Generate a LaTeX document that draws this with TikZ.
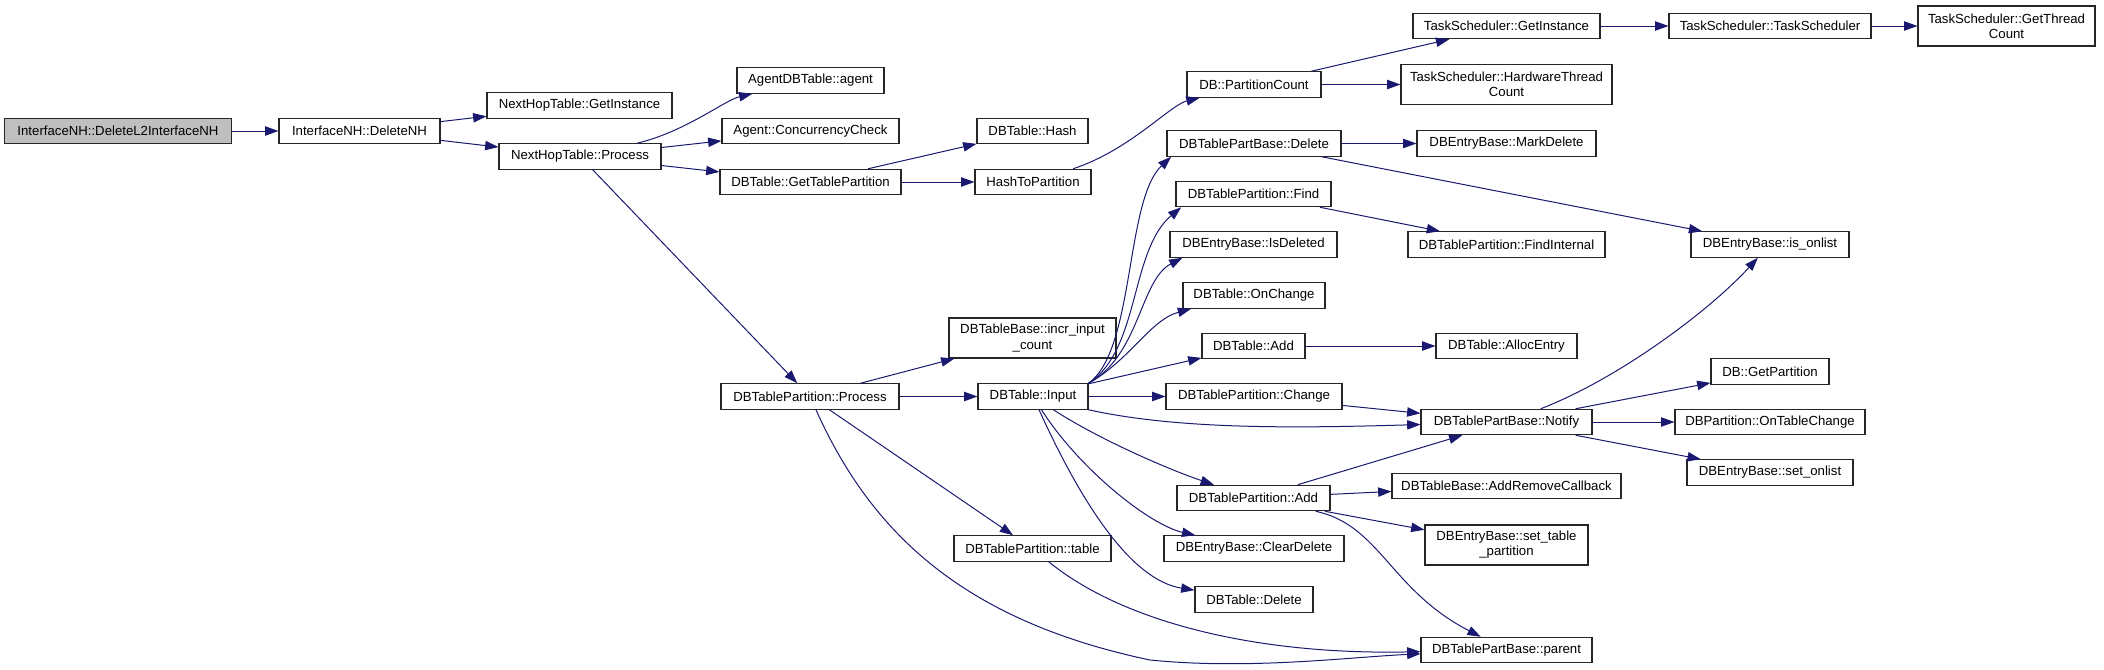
\documentclass[tikz,border=0pt]{standalone}
\usepackage{fontspec}
\setmainfont{Liberation Sans}
\usetikzlibrary{arrows.meta}
\definecolor{edgeblue}{HTML}{191970}
\definecolor{rootgray}{HTML}{BFBFBF}

\begin{document}
\begin{tikzpicture}[x=0.75pt, y=-0.75pt,
    fn/.style={draw=black!85, line width=0.8pt, fill=white, inner sep=0pt,
      minimum height=19.1pt, align=center, font=\fontsize{9.9}{11.3}\selectfont},
    bw/.style={minimum width=#1*0.75pt},
    tall/.style={minimum height=30pt},
    call/.style={edgeblue, line width=0.75pt, -{Triangle[length=10pt,width=7pt]}}]
    \useasboundingbox (0,0) rectangle (2104,669);

    % Caller chain
    \node[fn, bw=227, fill=rootgray] (dell2) at (118,131) {InterfaceNH::DeleteL2InterfaceNH};
    \node[fn, bw=161] (delnh) at (359.5,131) {InterfaceNH::DeleteNH};
    \node[fn, bw=185] (nhinst) at (579.5,105.5) {NextHopTable::GetInstance};
    \node[fn, bw=162] (nhproc) at (580,156.5) {NextHopTable::Process};

    % Column 4
    \node[fn, bw=147] (agent) at (810.5,80.5) {AgentDBTable::agent};
    \node[fn, bw=177] (conc) at (810.5,131) {Agent::ConcurrencyCheck};
    \node[fn, bw=181] (gettp) at (810.5,182) {DBTable::GetTablePartition};
    \node[fn, bw=178] (tpproc) at (810,396.5) {DBTablePartition::Process};

    % Column 5
    \node[fn, bw=111] (hash) at (1032.5,131) {DBTable::Hash};
    \node[fn, bw=116] (h2p) at (1033,182) {HashToPartition};
    \node[fn, bw=167, tall] (incr) at (1032.5,338) {DBTableBase::incr\_input\\\_count};
    \node[fn, bw=110] (input) at (1033,396.5) {DBTable::Input};
    \node[fn, bw=157] (tptable) at (1032.5,548.5) {DBTablePartition::table};

    % Column 6
    \node[fn, bw=134] (pcount) at (1254,84.5) {DB::PartitionCount};
    \node[fn, bw=174] (pbdel) at (1254,143.5) {DBTablePartBase::Delete};
    \node[fn, bw=155] (tpfind) at (1253.5,194) {DBTablePartition::Find};
    \node[fn, bw=167] (isdel) at (1253.5,244.5) {DBEntryBase::IsDeleted};
    \node[fn, bw=142] (onchg) at (1254,295.5) {DBTable::OnChange};
    \node[fn, bw=103] (tbadd) at (1253.5,346) {DBTable::Add};
    \node[fn, bw=176] (tpchg) at (1254,396.5) {DBTablePartition::Change};
    \node[fn, bw=153] (tpadd) at (1253.5,498) {DBTablePartition::Add};
    \node[fn, bw=180] (clrdel) at (1254,548.5) {DBEntryBase::ClearDelete};
    \node[fn, bw=118] (tbdel) at (1254,599.5) {DBTable::Delete};

    % Column 7
    \node[fn, bw=187] (tsinst) at (1506.5,26) {TaskScheduler::GetInstance};
    \node[fn, bw=211, tall] (tshwc) at (1506.5,84.5) {TaskScheduler::HardwareThread\\Count};
    \node[fn, bw=179] (markdel) at (1506.5,143.5) {DBEntryBase::MarkDelete};
    \node[fn, bw=197] (findint) at (1506.5,244.5) {DBTablePartition::FindInternal};
    \node[fn, bw=141] (alloc) at (1506.5,346) {DBTable::AllocEntry};
    \node[fn, bw=171] (notify) at (1506.5,422) {DBTablePartBase::Notify};
    \node[fn, bw=229] (addrm) at (1506.5,486) {DBTableBase::AddRemoveCallback};
    \node[fn, bw=163, tall] (settp) at (1506.5,545) {DBEntryBase::set\_table\\\_partition};
    \node[fn, bw=171] (parent) at (1506.5,650) {DBTablePartBase::parent};

    % Column 8 and 9
    \node[fn, bw=202] (tssched) at (1770,26) {TaskScheduler::TaskScheduler};
    \node[fn, bw=158] (isonl) at (1770,244.5) {DBEntryBase::is\_onlist};
    \node[fn, bw=118] (getpart) at (1770,371.5) {DB::GetPartition};
    \node[fn, bw=190] (ontbl) at (1770,422) {DBPartition::OnTableChange};
    \node[fn, bw=166] (setonl) at (1770,472.5) {DBEntryBase::set\_onlist};
    \node[fn, bw=177, tall] (tsgtc) at (2006.5,26) {TaskScheduler::GetThread\\Count};

    % Straight calls
    \foreach \a/\b in {dell2/delnh, delnh/nhinst, delnh/nhproc, nhproc/conc,
        nhproc/gettp, nhproc/tpproc, gettp/hash, gettp/h2p, pcount/tsinst,
        pcount/tshwc, tsinst/tssched, tssched/tsgtc, tpproc/incr, tpproc/input,
        tpproc/tptable, input/tbadd, input/tpchg, pbdel/markdel, pbdel/isonl,
        tpfind/findint, tbadd/alloc, tpchg/notify, tpadd/notify, tpadd/addrm,
        tpadd/settp, notify/getpart, notify/ontbl, notify/setonl} {
        \draw[call] (\a) -- (\b);
    }

    % Curved calls
    \draw[call] (nhproc) .. controls (685,132) and (725,100) .. (agent);
    \draw[call] (h2p) .. controls (1130,150) and (1170,105) .. (pcount);
    \draw[call] (input.north east) .. controls (1135,350) and (1125,200) .. ([xshift=3.5pt]pbdel.south west);
    \draw[call] (input.north east) .. controls (1140,350) and (1130,250) .. ([xshift=4.3pt]tpfind.south west);
    \draw[call] (input.north east) .. controls (1140,355) and (1140,280) .. ([xshift=9.75pt]isdel.south west);
    \draw[call] (input.north east) .. controls (1130,360) and (1150,320) .. ([xshift=6.5pt]onchg.south west);
    \draw[call] (input.south east) .. controls (1180,430) and (1300,428) .. (notify);
    \draw[call] (input) .. controls (1100,440) and (1170,470) .. (tpadd);
    \draw[call] (input) .. controls (1080,470) and (1150,525) .. (clrdel);
    \draw[call] (input) .. controls (1080,500) and (1130,580) .. (tbdel);
    \draw[call] (tpproc) .. controls (870,530) and (960,620) .. (1150,660)
        .. controls (1250,670) and (1350,657) .. (parent);
    \draw[call] (tptable) .. controls (1120,620) and (1250,655) .. (parent);
    \draw[call] (tpadd) .. controls (1380,525) and (1390,590) .. (parent);
    \draw[call] (notify) .. controls (1620,378) and (1710,310) .. (isonl);
\end{tikzpicture}
\end{document}
